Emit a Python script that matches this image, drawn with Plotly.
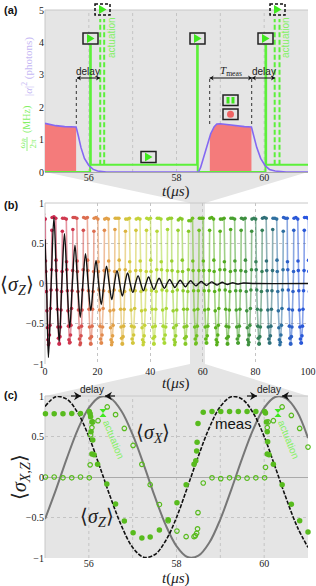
import plotly.graph_objects as go

W, H = 316, 586
SERIF = "Liberation Serif"
SANS = "Liberation Sans"
LIME = "#5cf03a"
PURPLE = "#8468f2"
SALMON = "#f47b7b"
DOT = "#58bb1e"
PANEL = "#e5e5e5"
LABEL_GREEN = "#84f064"

# ---------- panel (a) ----------
pulse_t = [55, 56.03, 56.03, 56.045, 56.045, 58.47, 58.47, 58.485, 58.485, 60.03, 60.03, 60.045, 60.045, 61]
pulse_y = [0, 0, 3.9, 3.9, 0.22, 0.22, 3.9, 3.9, 0, 0, 3.9, 3.9, 0.22, 0.22]
act_t = [56.26, 56.26, None, 56.35, 56.35, None, 60.24, 60.24, None, 60.35, 60.35]
act_y = [0.22, 4.72, None, 0.22, 4.72, None, 0.22, 4.72, None, 0.22, 4.72]
photon_t = [55, 55.1, 55.25, 55.45, 55.71, 55.76, 55.82, 55.9, 56.0, 56.1, 56.2, 56.4, 58.5, 58.55, 58.62, 58.7, 58.78, 58.86, 58.92, 59.0, 59.15, 59.35, 59.55, 59.71, 59.76, 59.83, 59.92, 60.02, 60.12, 60.25, 60.5, 61]
photon_y = [1.5, 1.47, 1.43, 1.4, 1.39, 1.12, 0.76, 0.42, 0.2, 0.08, 0.03, 0, 0, 0.14, 0.48, 0.85, 1.18, 1.4, 1.48, 1.49, 1.46, 1.42, 1.4, 1.39, 1.12, 0.76, 0.42, 0.2, 0.08, 0.03, 0, 0]
meas1_t = [55, 55.1, 55.25, 55.45, 55.71]
meas1_y = [1.5, 1.47, 1.43, 1.4, 1.39]
meas2_t = [58.76, 58.78, 58.86, 58.92, 59.0, 59.15, 59.35, 59.55, 59.71]
meas2_y = [1.1, 1.18, 1.4, 1.48, 1.49, 1.46, 1.42, 1.4, 1.39]
a_xticks = [56, 58, 60]
a_yticks = [0, 1, 2, 3, 4, 5]

# ---------- panel (b) ----------
cycle_start = [-1.3, 2.7, 6.7, 10.7, 14.7, 18.7, 22.7, 26.7, 30.7, 34.7, 38.7, 42.7, 46.7, 50.7, 54.7, 58.7, 62.7, 66.7, 70.7, 74.7, 78.7, 82.7, 86.7, 90.7, 94.7, 98.7]
cycle_dt = [0, 0.7, 1.4, 1.5, 1.61, 1.81, 2.02, 2.21, 2.4, 2.61, 2.8, 3.0, 3.2, 3.4, 3.6, 3.8, 3.89]
cycle_colors = ["#c8264e", "#cc2a4e", "#d03a50", "#d4504f", "#dc6e50", "#e28a4e", "#e2a048", "#dcb440", "#d2c63c", "#c6d23a", "#b6d838", "#a8d836", "#98d030", "#86c828", "#70c020", "#60b81a", "#58b01c", "#50a822", "#48a030", "#3f9040", "#358058", "#307078", "#2f70a0", "#2c60c8", "#2a58d8", "#2a55e0"]
cycle_z = [
    [0.95, 0.86, 0.80, 0.28, 0.15, -0.10, -0.34, -0.55, -0.70, -0.76, -0.74, -0.64, -0.52, -0.31, -0.08, 0.17, 0.66],
    [0.82, 0.83, 0.81, 0.29, 0.16, -0.08, -0.32, -0.54, -0.68, -0.75, -0.75, -0.66, -0.54, -0.33, -0.10, 0.15, 0.65],
    [0.81, 0.81, 0.80, 0.27, 0.17, -0.09, -0.34, -0.53, -0.70, -0.74, -0.73, -0.64, -0.52, -0.31, -0.09, 0.16, 0.67],
    [0.82, 0.82, 0.81, 0.28, 0.15, -0.10, -0.33, -0.55, -0.69, -0.76, -0.74, -0.65, -0.53, -0.33, -0.08, 0.17, 0.66],
    [0.82, 0.81, 0.82, 0.29, 0.16, -0.09, -0.32, -0.54, -0.68, -0.75, -0.75, -0.66, -0.53, -0.32, -0.10, 0.15, 0.65],
    [0.81, 0.82, 0.80, 0.27, 0.15, -0.08, -0.33, -0.53, -0.69, -0.74, -0.74, -0.64, -0.54, -0.31, -0.09, 0.16, 0.66],
    [0.80, 0.81, 0.80, 0.28, 0.16, -0.10, -0.34, -0.55, -0.70, -0.76, -0.73, -0.65, -0.52, -0.33, -0.08, 0.15, 0.67],
    [0.81, 0.81, 0.81, 0.29, 0.17, -0.09, -0.32, -0.54, -0.68, -0.75, -0.75, -0.66, -0.53, -0.32, -0.10, 0.17, 0.65],
    [0.80, 0.80, 0.81, 0.27, 0.15, -0.08, -0.33, -0.53, -0.69, -0.74, -0.74, -0.64, -0.54, -0.31, -0.09, 0.16, 0.66],
    [0.80, 0.81, 0.80, 0.28, 0.16, -0.10, -0.34, -0.55, -0.70, -0.76, -0.73, -0.65, -0.52, -0.33, -0.08, 0.15, 0.66],
    [0.81, 0.80, 0.81, 0.29, 0.15, -0.09, -0.32, -0.54, -0.68, -0.75, -0.75, -0.66, -0.53, -0.32, -0.10, 0.17, 0.65],
    [0.81, 0.81, 0.80, 0.27, 0.17, -0.08, -0.33, -0.53, -0.69, -0.74, -0.74, -0.64, -0.54, -0.31, -0.09, 0.16, 0.67],
    [0.80, 0.81, 0.81, 0.28, 0.16, -0.10, -0.34, -0.55, -0.70, -0.76, -0.73, -0.65, -0.52, -0.33, -0.08, 0.15, 0.66],
    [0.79, 0.81, 0.80, 0.29, 0.15, -0.09, -0.32, -0.54, -0.68, -0.75, -0.75, -0.66, -0.53, -0.32, -0.10, 0.17, 0.65],
    [0.78, 0.78, 0.81, 0.28, 0.16, -0.09, -0.33, -0.54, -0.69, -0.75, -0.74, -0.65, -0.53, -0.32, -0.09, 0.16, 0.66],
    [0.81, 0.81, 0.81, 0.28, 0.16, -0.09, -0.33, -0.54, -0.69, -0.74, -0.74, -0.65, -0.53, -0.32, -0.09, 0.16, 0.66],
    [0.81, 0.82, 0.80, 0.29, 0.15, -0.10, -0.34, -0.55, -0.70, -0.76, -0.73, -0.64, -0.52, -0.31, -0.08, 0.17, 0.65],
    [0.80, 0.80, 0.81, 0.27, 0.17, -0.08, -0.32, -0.53, -0.68, -0.75, -0.75, -0.66, -0.54, -0.33, -0.10, 0.15, 0.67],
    [0.81, 0.81, 0.80, 0.28, 0.16, -0.09, -0.33, -0.54, -0.69, -0.74, -0.74, -0.65, -0.53, -0.32, -0.09, 0.16, 0.66],
    [0.81, 0.80, 0.81, 0.29, 0.15, -0.10, -0.34, -0.55, -0.70, -0.76, -0.73, -0.64, -0.52, -0.31, -0.08, 0.17, 0.65],
    [0.80, 0.81, 0.80, 0.27, 0.17, -0.08, -0.32, -0.53, -0.68, -0.75, -0.75, -0.66, -0.54, -0.33, -0.10, 0.15, 0.66],
    [0.81, 0.82, 0.81, 0.28, 0.16, -0.09, -0.33, -0.54, -0.69, -0.74, -0.74, -0.65, -0.53, -0.32, -0.09, 0.16, 0.67],
    [0.81, 0.81, 0.80, 0.29, 0.15, -0.10, -0.34, -0.55, -0.70, -0.76, -0.73, -0.64, -0.52, -0.31, -0.08, 0.17, 0.65],
    [0.82, 0.81, 0.81, 0.27, 0.17, -0.08, -0.32, -0.53, -0.68, -0.75, -0.75, -0.66, -0.54, -0.33, -0.10, 0.15, 0.66],
    [0.81, 0.82, 0.80, 0.28, 0.16, -0.09, -0.33, -0.54, -0.69, -0.74, -0.74, -0.65, -0.53, -0.32, -0.09, 0.16, 0.66],
    [0.82, 0.82, 0.81, 0.29, 0.15, -0.10, -0.34, -0.55, -0.70, -0.76, -0.73, -0.64, -0.52, -0.31, -0.08, 0.17, 0.65],
]
black_t = [0, 0.6, 1.3, 2.35, 3.4, 4.4, 5.4, 6.4, 7.4, 8.4, 9.4, 10.4, 11.4, 12.4, 13.4, 14.4, 15.4, 16.4, 17.4, 18.4, 19.4, 20.4, 21.4, 22.4, 23.4, 24.4, 25.4, 26.4, 27.4, 28.4, 29.4, 30.4, 31.4, 32.4, 33.4, 34.4, 35.4, 36.4, 37.4, 38.4, 39.4, 40.4, 41.4, 42.4, 43.4, 44.4, 45.4, 46.4, 47.4, 48.4, 49.4, 50.4, 51.4, 52.4, 53.4, 54.4, 55.4, 56.4, 57.4, 58.4, 59.4, 60.4, 61.4, 62.4, 63.4, 64.4, 65.4, 66.4, 67.4, 68.4, 69.4, 70.4, 71.4, 72.4, 73.4, 74.4, 75.4, 80, 100]
black_z = [0.55, 0, -0.92, 0, 0.82, 0, -0.72, 0, 0.62, 0, -0.55, 0, 0.475, 0, -0.42, 0, 0.37, 0, -0.335, 0, 0.285, 0, -0.26, 0, 0.215, 0, -0.2, 0, 0.16, 0, -0.155, 0, 0.13, 0, -0.11, 0, 0.095, 0, -0.09, 0, 0.08, 0, -0.075, 0, 0.065, 0, -0.06, 0, 0.05, 0, -0.05, 0, 0.04, 0, -0.04, 0, 0.035, 0, -0.03, 0, 0.025, 0, -0.025, 0, 0.02, 0, -0.02, 0, 0.015, 0, -0.012, 0, 0.01, 0, -0.008, 0, 0.006, 0, 0]
b_xticks = [0, 20, 40, 60, 80, 100]
b_yticks = [-1, -0.5, 0, 0.5, 1]
b_ylabels = ["−1", "−0.5", "0", "0.5", "1"]

# ---------- panel (c) ----------
curve_t = [55, 55.25, 55.5, 55.75, 56, 56.25, 56.5, 56.75, 57, 57.25, 57.5, 57.75, 58, 58.25, 58.5, 58.75, 59, 59.25, 59.5, 59.75, 60, 60.25, 60.5, 60.75, 61]
ideal_z = [0.87, 0.99, 0.96, 0.79, 0.5, 0.125, -0.26, -0.61, -0.87, -0.99, -0.96, -0.79, -0.5, -0.125, 0.26, 0.61, 0.87, 0.99, 0.96, 0.79, 0.5, 0.125, -0.26, -0.61, -0.87]
ideal_x = [-0.52, -0.156, 0.233, 0.588, 0.853, 0.988, 0.972, 0.809, 0.522, 0.156, -0.233, -0.588, -0.853, -0.988, -0.972, -0.809, -0.522, -0.156, 0.233, 0.588, 0.853, 0.988, 0.972, 0.809, 0.48]
meas_z_t = [55.01, 55.21, 55.41, 55.61, 55.81, 56.01, 56.03, 56.04, 56.07, 56.05, 56.09, 56.07, 56.12, 56.20, 56.41, 56.61, 56.81, 57.01, 57.21, 57.40, 57.61, 57.81, 58.01, 58.22, 58.40, 58.44, 58.46, 58.47, 58.49, 58.61, 58.81, 59.01, 59.21, 59.41, 59.61, 59.81, 60.01, 60.03, 60.05, 60.07, 60.08, 60.07, 60.11, 60.21, 60.41, 60.62, 60.81, 61.0]
meas_z = [0.78, 0.78, 0.78, 0.785, 0.785, 0.81, 0.78, 0.745, 0.68, 0.56, 0.457, 0.284, 0.276, 0.156, -0.086, -0.333, -0.543, -0.687, -0.753, -0.741, -0.654, -0.527, -0.317, -0.095, 0.156, 0.2, 0.32, 0.43, 0.66, 0.8, 0.81, 0.81, 0.81, 0.81, 0.81, 0.81, 0.81, 0.79, 0.68, 0.56, 0.435, 0.284, 0.276, 0.156, -0.095, -0.337, -0.54, -0.68]
meas_x_t = [55.01, 55.21, 55.41, 55.61, 55.81, 56.01, 56.03, 56.04, 56.07, 56.09, 56.21, 56.42, 56.61, 56.81, 57.01, 57.21, 57.40, 57.61, 57.81, 58.01, 58.22, 58.40, 58.43, 58.46, 58.48, 58.49, 58.61, 58.81, 59.01, 59.21, 59.41, 59.61, 59.81, 60.01, 60.03, 60.07, 60.09, 60.21, 60.41, 60.62, 60.81, 61.0]
meas_x = [0, 0, -0.01, -0.01, 0, -0.01, 0.15, 0.52, 0.61, 0.68, 0.695, 0.865, 0.77, 0.6, 0.39, 0.156, -0.095, -0.34, -0.54, -0.667, -0.737, -0.737, -0.724, -0.695, -0.64, -0.44, -0.074, -0.01, -0.02, -0.01, -0.01, -0.015, -0.01, -0.01, 0.12, 0.61, 0.68, 0.695, 0.865, 0.76, 0.6, 0.37]
c_yticks = [-1, -0.5, 0, 0.5, 1]
c_ylabels = ["−1", "−0.5", "0", "0.5", "1"]
c_xticks = [56, 58, 60]

# ---------- geometry helpers ----------
def px(x):
    return x / W

def py(y):
    return 1 - y / H

L, R = 45, 308

def poly(points):
    return "M " + " L ".join(f"{px(x):.5f},{py(y):.5f}" for x, y in points) + " Z"

shapes = []

def add_path(points, fill, line=None, width=0, layer="above"):
    shapes.append(dict(type="path", xref="paper", yref="paper", path=poly(points), fillcolor=fill,
                       line=dict(color=line or fill, width=width), layer=layer))

def add_rect(x0, y0, x1, y1, fill="rgba(0,0,0,0)", line="#111", width=1.5, dash="solid", layer="above"):
    shapes.append(dict(type="rect", xref="paper", yref="paper", x0=px(x0), x1=px(x1), y0=py(y0), y1=py(y1),
                       fillcolor=fill, line=dict(color=line, width=width, dash=dash), layer=layer))

def add_vdots(x, y0, y1):
    shapes.append(dict(type="line", xref="paper", yref="paper", x0=px(x), x1=px(x), y0=py(y0), y1=py(y1),
                       line=dict(color="#333", width=1, dash="dot"), layer="above"))

# grey backgrounds
add_rect(L, 10, R, 172, fill=PANEL, line=PANEL, width=0, layer="below")
add_rect(L, 396, R, 558, fill=PANEL, line=PANEL, width=0, layer="below")
add_path([(L, 172), (R, 172), (205, 203), (190, 203)], PANEL, layer="below")
add_rect(190, 203, 205, 364, fill=PANEL, line=PANEL, width=0, layer="below")
add_path([(190, 364), (205, 364), (R, 396), (L, 396)], PANEL, layer="below")

def play(cx, cy, dashed=False):
    if dashed:
        add_rect(cx - 7.5, cy - 5.5, cx + 7.5, cy + 5.5, dash="3px,2px")
    else:
        add_rect(cx - 7.5, cy - 5.5, cx + 7.5, cy + 5.5, width=1.5, line="#222")
    add_path([(cx - 3.5, cy - 4.5), (cx + 4, cy), (cx - 3.5, cy + 4.5)], "#3fe81e")

play(90.5, 38.5)
play(148.5, 157)
play(197.5, 38.5)
play(265.5, 38.5)
play(102.5, 9.5, dashed=True)
play(277.5, 9.5, dashed=True)
add_rect(223, 95, 238, 105.5, line="#222")
add_rect(226.5, 97, 229.5, 103.5, fill="#3fe81e", line="#3fe81e", width=0)
add_rect(231.5, 97, 234.5, 103.5, fill="#3fe81e", line="#3fe81e", width=0)
add_rect(223, 109, 238, 119.5, line="#222")
shapes.append(dict(type="circle", xref="paper", yref="paper", x0=px(227), x1=px(234), y0=py(110.8), y1=py(117.8),
                   fillcolor="#f06464", line=dict(width=0), layer="above"))

add_vdots(76.3, 79, 127)
add_vdots(209.7, 79, 127)
add_vdots(251.7, 79, 127)

for cx in (103, 278):
    add_path([(cx - 3.5, 409), (cx + 3.5, 409), (cx - 3.5, 417), (cx + 3.5, 417)], "#3fe81e")

def head(x, y, direction, size):
    add_path([(x, y), (x - direction * size, y - size * 0.6), (x - direction * size * 0.7, y), (x - direction * size, y + size * 0.6)], "#111")

def arrow(x0, x1, y, both=False, size=4.0, width=1.0):
    shapes.append(dict(type="line", xref="paper", yref="paper", x0=px(x0), x1=px(x1), y0=py(y), y1=py(y),
                       line=dict(color="#111", width=width), layer="above"))
    direction = 1 if x1 > x0 else -1
    head(x1, y, direction, size)
    if both:
        head(x0, y, -direction, size)

annotations = []

def text(x, y, s, size=10, color="#222", family=SANS, angle=0, xanchor="center"):
    annotations.append(dict(x=px(x), y=py(y), xref="paper", yref="paper", text=s, showarrow=False,
                            font=dict(size=size, color=color, family=family), textangle=angle,
                            xanchor=xanchor, yanchor="middle"))

text(2, 10, "<b>(a)</b>", 11, "#111", xanchor="left")
text(2, 205, "<b>(b)</b>", 11, "#111", xanchor="left")
text(2, 395, "<b>(c)</b>", 11, "#111", xanchor="left")

# rotated fraction omega_R / 2 pi, then the unit and the photon label
text(21.5, 144, "<i>ω<sub>R</sub></i>", 9, LABEL_GREEN, SERIF, -90)
text(32.5, 144, "2π", 9, LABEL_GREEN, SERIF, -90)
shapes.append(dict(type="line", xref="paper", yref="paper", x0=px(27), x1=px(27), y0=py(137), y1=py(151),
                   line=dict(color=LABEL_GREEN, width=0.8), layer="above"))
text(27, 120, "(MHz)", 10, LABEL_GREEN, SERIF, -90)
text(27, 67, "|<i>α</i>|<sup>2</sup> (photons)", 11, "#c6b8f4", SERIF, -90)
text(112, 38, "actuation", 10, LABEL_GREEN, SANS, -90)
text(286, 38, "actuation", 10, LABEL_GREEN, SANS, -90)
text(88, 71, "delay", 10, "#222")
text(231, 71, "<i>T</i><sub>meas</sub>", 11, "#222", SERIF)
text(264, 71, "delay", 10, "#222")
arrow(77, 100, 78, both=True)
arrow(209.7, 252, 78, both=True)
arrow(252, 275, 78, both=True)
text(176, 191, "<i>t</i>(<i>μs</i>)", 15, "#222", SERIF)

text(17, 285, "⟨<i>σ</i><sub><i>Z</i></sub>⟩", 20, "#222", SERIF)
text(176, 383, "<i>t</i>(<i>μs</i>)", 15, "#222", SERIF)

text(20, 477, "⟨<i>σ</i><sub><i>X,Z</i></sub>⟩", 20, "#222", SERIF, -90)
text(153, 433, "⟨<i>σ</i><sub><i>X</i></sub>⟩", 20, "#222", SERIF)
text(97, 517, "⟨<i>σ</i><sub><i>Z</i></sub>⟩", 20, "#222", SERIF)
text(233, 423, "meas", 15, "#111")
text(92, 389, "delay", 10, "#222")
text(269, 389, "delay", 10, "#222")
text(114, 439, "actuation", 10, LABEL_GREEN, SANS, 68)
text(289, 439, "actuation", 10, LABEL_GREEN, SANS, 68)
arrow(71, 81, 396, size=7, width=1.2)
arrow(115, 105, 396, size=7, width=1.2)
arrow(247, 257, 396, size=7, width=1.2)
arrow(292, 282, 396, size=7, width=1.2)
text(176, 578, "<i>t</i>(<i>μs</i>)", 15, "#222", SERIF)

def with_alpha(hex_color, alpha):
    r, g, b = (int(hex_color[i:i + 2], 16) for i in (1, 3, 5))
    return f"rgba({r},{g},{b},{alpha})"

fig = go.Figure()

# (a)
fig.add_trace(go.Scatter(x=meas1_t, y=meas1_y, mode="none", fill="tozeroy", fillcolor=SALMON, xaxis="x", yaxis="y"))
fig.add_trace(go.Scatter(x=meas2_t, y=meas2_y, mode="none", fill="tozeroy", fillcolor=SALMON, xaxis="x", yaxis="y"))
fig.add_trace(go.Scatter(x=pulse_t, y=pulse_y, mode="lines", line=dict(color=LIME, width=2), xaxis="x", yaxis="y", cliponaxis=False))
fig.add_trace(go.Scatter(x=act_t, y=act_y, mode="lines", line=dict(color=LIME, width=2, dash="5px,2.5px"), xaxis="x", yaxis="y"))
fig.add_trace(go.Scatter(x=photon_t, y=photon_y, mode="lines", line=dict(color=PURPLE, width=1.6), xaxis="x", yaxis="y", cliponaxis=False))

# (b)
for start, color, row in zip(cycle_start, cycle_colors, cycle_z):
    fig.add_trace(go.Scatter(x=[start + d for d in cycle_dt], y=row, mode="lines+markers",
                             line=dict(color=with_alpha(color, 0.55), width=1.6), marker=dict(color=color, size=3.6),
                             xaxis="x2", yaxis="y2"))
fig.add_trace(go.Scatter(x=black_t, y=black_z, mode="lines", line=dict(color="#111", width=1.4, shape="spline", smoothing=1),
                         xaxis="x2", yaxis="y2"))

# (c)
fig.add_trace(go.Scatter(x=curve_t, y=ideal_x, mode="lines", line=dict(color="#777", width=2, shape="spline", smoothing=1), xaxis="x3", yaxis="y3"))
fig.add_trace(go.Scatter(x=curve_t, y=ideal_z, mode="lines", line=dict(color="#111", width=1.6, dash="4px,1.5px", shape="spline", smoothing=1), xaxis="x3", yaxis="y3"))
fig.add_trace(go.Scatter(x=meas_x_t, y=meas_x, mode="markers", marker=dict(symbol="circle-open", color=DOT, size=4.5, line=dict(width=1.2, color=DOT)), xaxis="x3", yaxis="y3", cliponaxis=False))
fig.add_trace(go.Scatter(x=meas_z_t, y=meas_z, mode="markers", marker=dict(color=DOT, size=5.5), xaxis="x3", yaxis="y3", cliponaxis=False))

def xax(rng, vals, anchor, standoff=0):
    return dict(domain=[px(L), px(R)], range=rng, tickmode="array", tickvals=vals, ticktext=[str(v) for v in vals],
                anchor=anchor, showgrid=False, zeroline=False, showline=False, ticks="", automargin=False,
                ticklabelstandoff=standoff, tickfont=dict(family=SERIF, size=10, color="#222"))

def yax(rng, vals, labels, top, bottom, anchor):
    return dict(domain=[py(bottom), py(top)], range=rng, tickmode="array", tickvals=vals, ticktext=labels,
                anchor=anchor, showgrid=True, gridcolor="#c4c4c4", griddash="dot", gridwidth=1, automargin=False,
                zeroline=True, zerolinecolor="#aaaaaa", zerolinewidth=1, showline=False, ticks="",
                tickfont=dict(family=SERIF, size=10, color="#222"))

xa = xax([55, 61], a_xticks, "y", -2)
ya = yax([0, 5], a_yticks, [str(v) for v in a_yticks], 10, 172, "x")
ya.update(showgrid=False)
xb = xax([0, 100], b_xticks, "y2")
xb.update(showgrid=True, gridcolor="#c4c4c4", griddash="dot")
yb = yax([-1, 1], b_yticks, b_ylabels, 203, 364, "x2")
xc = xax([55, 61], c_xticks, "y3", -2)
yc = yax([-1, 1], c_yticks, c_ylabels, 396, 558, "x3")

# dotted guides at every microsecond in (a) and (c)
for t in [56, 57, 58, 59, 60]:
    shapes.append(dict(type="line", xref="x", yref="paper", x0=t, x1=t, y0=py(172), y1=py(10),
                       line=dict(color="#c4c4c4", width=1, dash="dot"), layer="below"))
    shapes.append(dict(type="line", xref="x3", yref="paper", x0=t, x1=t, y0=py(558), y1=py(396),
                       line=dict(color="#c4c4c4", width=1, dash="dot"), layer="below"))

# panel frames
for top, bottom in [(10, 172), (203, 364), (396, 558)]:
    shapes.append(dict(type="line", xref="paper", yref="paper", x0=px(L), x1=px(R), y0=py(top), y1=py(top),
                       line=dict(color="#c8c8c8", width=1), layer="below"))
    shapes.append(dict(type="line", xref="paper", yref="paper", x0=px(L), x1=px(L), y0=py(top), y1=py(bottom),
                       line=dict(color="#c8c8c8", width=1), layer="below"))

fig.update_layout(width=W, height=H, margin=dict(l=0, r=0, t=0, b=0, autoexpand=False), paper_bgcolor="white", plot_bgcolor="rgba(0,0,0,0)",
                  showlegend=False, shapes=shapes, annotations=annotations,
                  xaxis=xa, yaxis=ya, xaxis2=xb, yaxis2=yb, xaxis3=xc, yaxis3=yc)

fig.write_html("out.html", config=dict(displayModeBar=False), post_script="document.body.style.margin='0';document.body.style.overflow='hidden';")
